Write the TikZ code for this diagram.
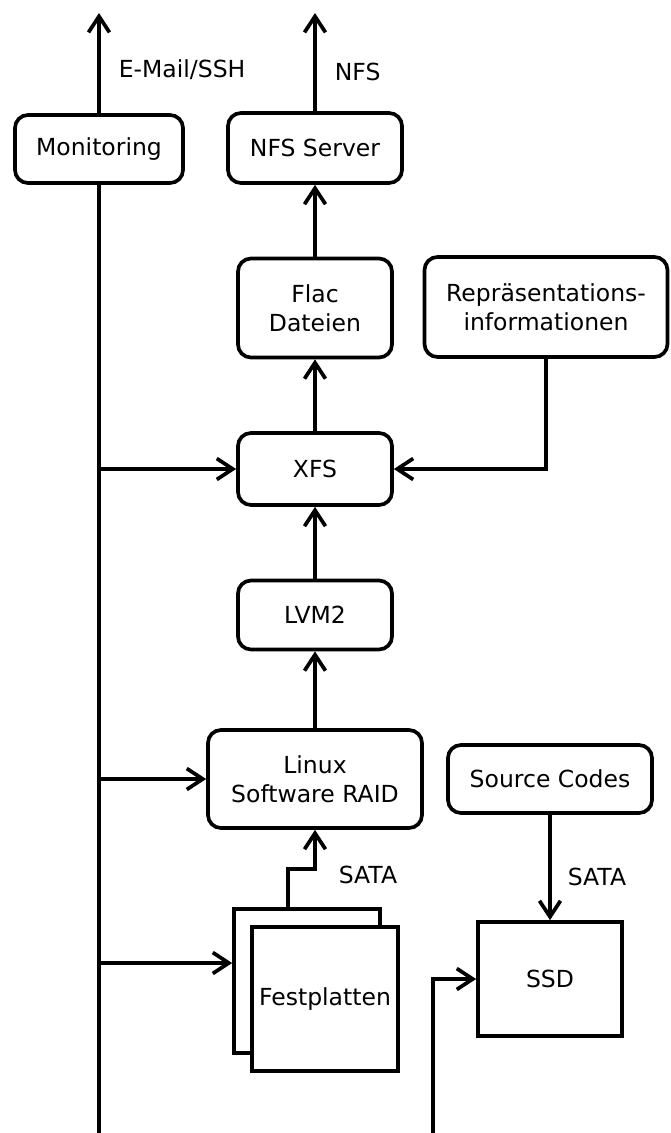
\documentclass[tikz,border=0pt]{standalone}
\usepackage{fontspec}
\setmainfont{DejaVu Sans}
\usetikzlibrary{arrows.meta}
\begin{document}
\begin{tikzpicture}[x=1pt,y=-1pt,
  line width=3.7pt,
  every node/.style={font=\fontsize{23.5}{29.5}\selectfont, inner sep=0pt},
  rbox/.style={draw, rounded corners=13pt, align=center, fill=white},
  sbox/.style={draw, align=center, fill=white},
  conn/.style={-{Straight Barb[length=16pt,width=21pt]}},
  lbl/.style={anchor=west}
]
\useasboundingbox (0,0) rectangle (670,1133);

% boxes
\node[rbox, minimum width=168pt, minimum height=68pt] (mon) at (99,149) {Monitoring};
\node[rbox, minimum width=174pt, minimum height=70pt] (nfs) at (315,148) {NFS Server};
\node[rbox, minimum width=154pt, minimum height=99pt] (flac) at (315,308) {Flac\\Dateien};
\node[rbox, minimum width=243pt, minimum height=100pt] (repr) at (546,307) {Repräsentations-\\informationen};
\node[rbox, minimum width=154pt, minimum height=72pt] (xfs) at (315,469) {XFS};
\node[rbox, minimum width=154pt, minimum height=69pt] (lvm) at (315,615) {LVM2};
\node[rbox, minimum width=214pt, minimum height=98pt] (raid) at (315,779) {Linux\\Software RAID};
\node[rbox, minimum width=204pt, minimum height=68pt] (src) at (550,779) {Source Codes};
\node[sbox, minimum width=144pt, minimum height=114pt] (ssd) at (550,979) {SSD};
\node[sbox, minimum width=146pt, minimum height=144pt] (diskback) at (307,981) {};
\node[sbox, minimum width=146pt, minimum height=144pt] (disk) at (325,999) {Festplatten};

% free ends
\coordinate (mailout) at (99,13);
\coordinate (nfsout) at (315,13);
\coordinate (trunkbot) at (99,1133);
\coordinate (ssdbot) at (433,1133);

% upward data path
\draw[conn] (mon.north) -- (mailout);
\draw[conn] (nfs.north) -- (nfsout);
\draw[conn] (flac.north) -- (nfs.south);
\draw[conn] (xfs.north) -- (flac.south);
\draw[conn] (lvm.north) -- (xfs.south);
\draw[conn] (raid.north) -- (lvm.south);
\draw[conn] ([xshift=-19pt]diskback.north) -- ++(0,-38) -| (raid.south);
\draw[conn] (repr.south) |- (xfs.east);
\draw[conn] (src.south) -- (ssd.north);

% monitoring trunk and its branches
\draw (mon.south) -- (trunkbot);
\draw[conn] (mon.south |- xfs.west) -- (xfs.west);
\draw[conn] (mon.south |- raid.west) -- (raid.west);
\draw[conn] (mon.south |- 0,963) -- (diskback.west |- 0,963);
\draw[conn] (ssdbot) |- (ssd.west);

% connector labels
\node[lbl] at (117,70) {E-Mail/SSH};
\node[lbl] at (333,72) {NFS};
\node[lbl] at (337,875) {SATA};
\node[lbl] at (566,877) {SATA};
\end{tikzpicture}
\end{document}
